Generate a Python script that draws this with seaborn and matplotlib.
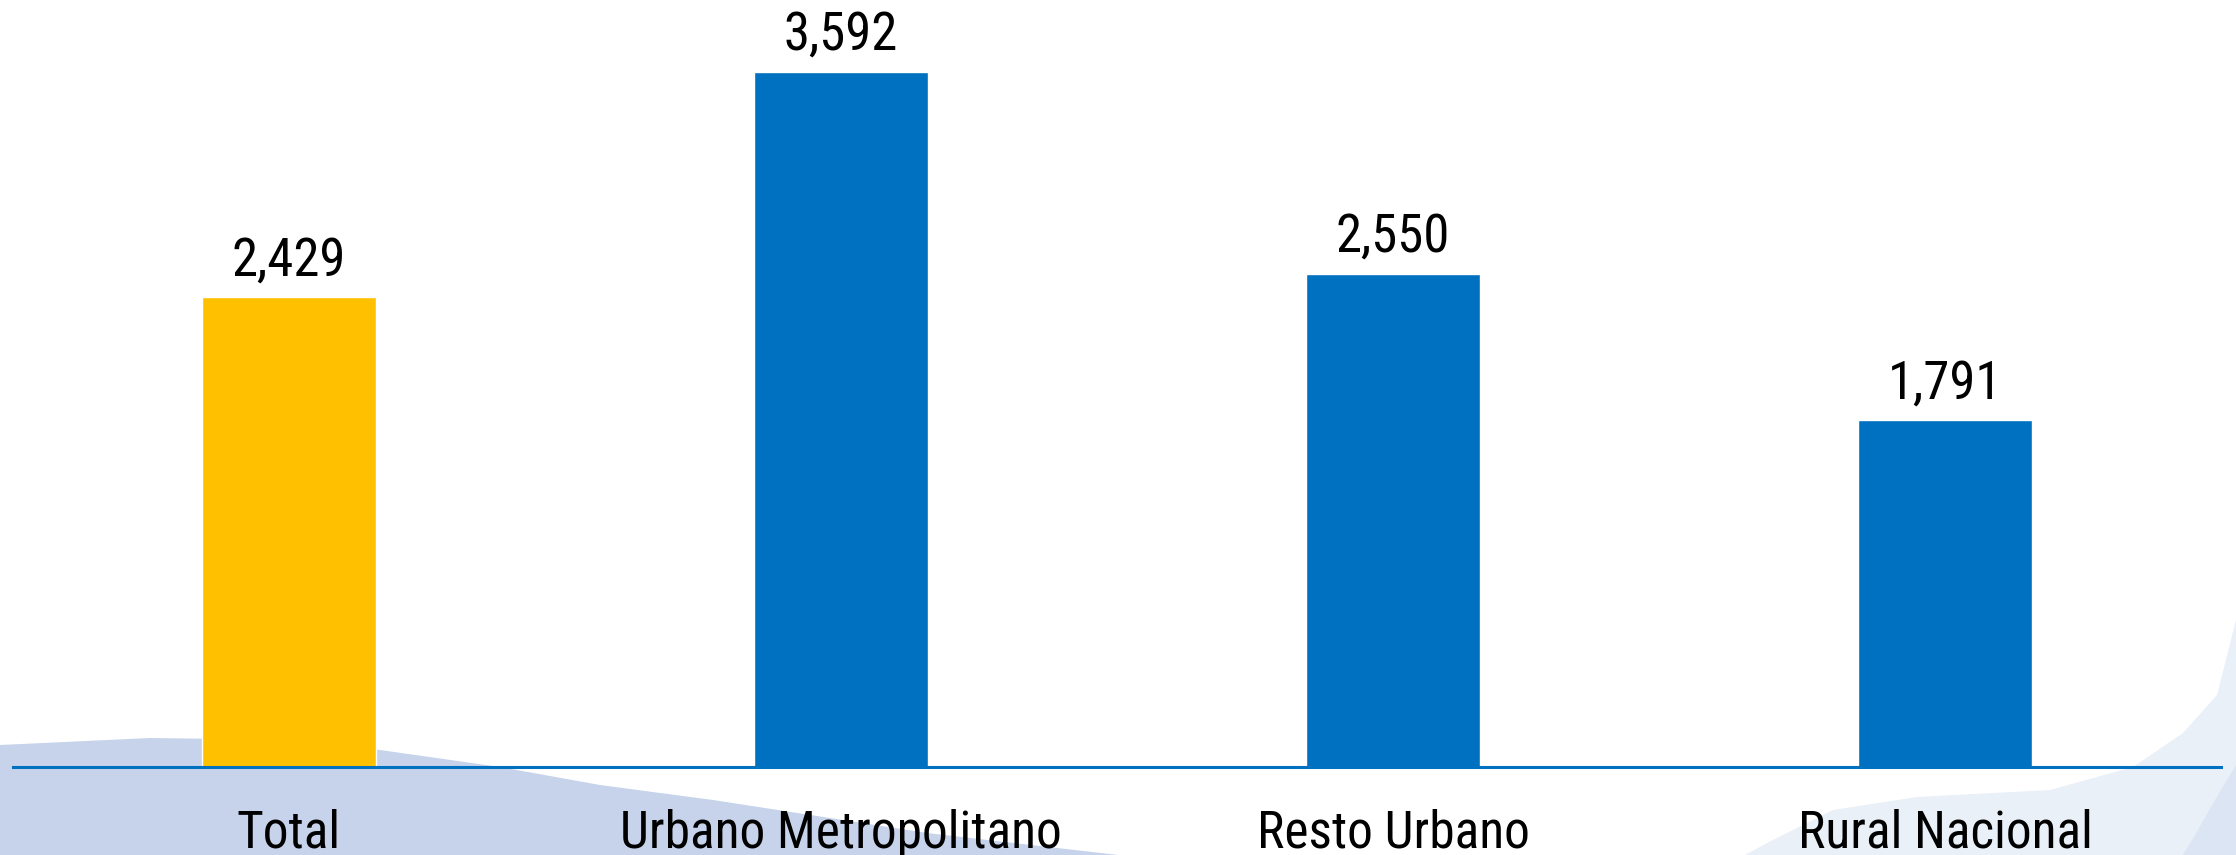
import matplotlib
matplotlib.use("Agg")
import matplotlib.pyplot as plt
from matplotlib.patches import Polygon
import seaborn as sns
import pandas as pd

categories = ["Total", "Urbano Metropolitano", "Resto Urbano", "Rural Nacional"]
values = [2429, 3592, 2550, 1791]
bar_colors = ["#FFC000", "#0070C0", "#0070C0", "#0070C0"]

df = pd.DataFrame({"cat": categories, "val": values})

sns.set_theme(style="white")
plt.rcParams["font.family"] = ["Roboto Condensed", "Liberation Sans", "DejaVu Sans"]

W, H = 2236, 855
fig = plt.figure(figsize=(W / 100, H / 100), dpi=100)
fig.patch.set_facecolor("white")

def px(points):
    return [(x / W, 1 - y / H) for x, y in points]

# decorative background swooshes
left_shape = [(0, 745), (150, 738), (300, 740), (380, 750), (500, 767), (600, 785),
              (713, 800), (927, 833), (1118, 855), (0, 855)]
right_light = [(2236, 620), (2217, 695), (2183, 733), (2133, 767), (2050, 790),
               (1917, 797), (1833, 810), (1767, 843), (1745, 855), (2236, 855)]
right_dark = [(2236, 765), (2215, 800), (2195, 835), (2183, 855), (2236, 855)]
for pts, col in [(left_shape, "#C6D3EA"), (right_light, "#EAF0F8"), (right_dark, "#DCE5F3")]:
    fig.patches.append(Polygon(px(pts), closed=True, transform=fig.transFigure,
                               facecolor=col, edgecolor="none", zorder=-5))

ax = fig.add_axes([13 / W, 88 / H, (2221 - 13) / W, 1 - 88 / H])
ax.set_zorder(2)
ax.patch.set_alpha(0)

sns.barplot(data=df, x="cat", y="val", hue="cat", palette=bar_colors,
            width=0.315, legend=False, ax=ax, saturation=1)

ax.set_ylim(0, 3964)
ax.set_xlim(-0.5, 3.5)
ax.set_xlabel("")
ax.set_ylabel("")
ax.set_yticks([])
for s in ["top", "left", "right"]:
    ax.spines[s].set_visible(False)
ax.spines["bottom"].set_color("#0070C0")
ax.spines["bottom"].set_linewidth(2.2)
ax.spines["bottom"].set_zorder(5)
ax.tick_params(axis="x", length=0, pad=30, labelsize=37, labelcolor="black")

for i, v in enumerate(values):
    ax.annotate(f"{v:,}", xy=(i, v), xytext=(0, 15.8), textcoords="offset points",
                ha="center", va="baseline", fontsize=38, color="black")

fig.savefig("out.png", dpi=100)
